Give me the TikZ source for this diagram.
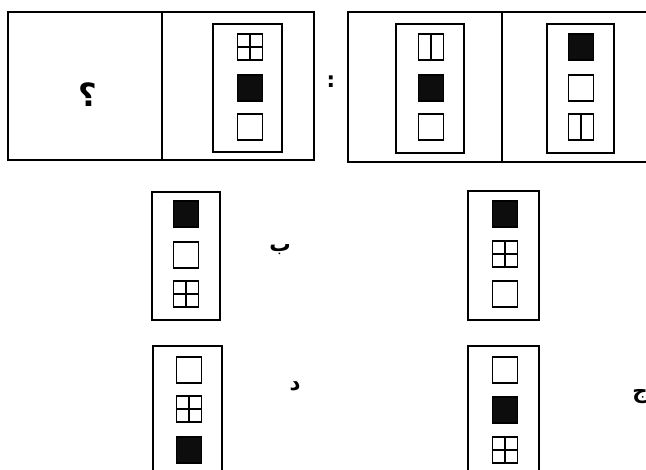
\documentclass[tikz,border=0pt]{standalone}
\usepackage{fontspec}
\newfontfamily\arabicfont[Script=Arabic]{DejaVu Sans}
\TeXXeTstate=1
\tikzset{
  frame/.style={draw=black, line width=1.3pt},
  card/.style={draw=black, line width=1.3pt},
  tile/.style={draw=black, line width=1.3pt, fill=white},
  letter/.style={font=\arabicfont\bfseries\fontsize{16}{18}\selectfont, inner sep=0pt},
  pics/blank/.style={code={\draw[tile] (-12.5,-13) rectangle (12.5,13);}},
  pics/solid/.style={code={\draw[tile, fill=black!95] (-12.5,-13) rectangle (12.5,13);}},
  pics/cross/.style={code={\draw[tile] (-12.5,-13) rectangle (12.5,13) (0,-13) -- (0,13) (-12.5,0) -- (12.5,0);}},
  pics/halves/.style={code={\draw[tile] (-12.5,-13) rectangle (12.5,13) (0,-13) -- (0,13);}},
}
\begin{document}
\begin{tikzpicture}[x=0.75pt, y=-0.75pt]
  \path[use as bounding box, clip] (0,0) rectangle (646,470);

  % question row
  \draw[frame] (8,12) rectangle (314,160) (162,12) -- (162,160);
  \draw[frame] (348,12) rectangle (670,162) (502,12) -- (502,162);
  \node[letter, font=\arabicfont\bfseries\fontsize{24}{28}\selectfont] (q) at (88,95) {\beginR ؟\endR};
  \node[letter, font=\arabicfont\bfseries\fontsize{16}{18}\selectfont] (colon) at (331,82) {:};

  \draw[card] (213,24) rectangle (282,152);
  \pic at (250,47) {cross};
  \pic at (250,88) {solid};
  \pic at (250,127) {blank};

  \draw[card] (396,24) rectangle (464,153);
  \pic at (431,47) {halves};
  \pic at (431,88) {solid};
  \pic at (431,127) {blank};

  \draw[card] (547,24) rectangle (614,153);
  \pic at (581,47) {solid};
  \pic at (581,88) {blank};
  \pic at (581,127) {halves};

  % answer choices
  \draw[card] (468,191) rectangle (539,320);
  \pic at (505,214) {solid};
  \pic at (505,254) {cross};
  \pic at (505,294) {blank};

  \draw[card] (152,192) rectangle (220,320);
  \pic at (186,214) {solid};
  \pic at (186,255) {blank};
  \pic at (186,294) {cross};
  \node[letter] (optB) at (280,250) {\beginR ب\endR};

  \draw[card] (468,346) rectangle (539,480);
  \pic at (505,370) {blank};
  \pic at (505,410) {solid};
  \pic at (505,450) {cross};
  \node[letter] (optJ) at (640,397) {\beginR ج\endR};

  \draw[card] (153,346) rectangle (222,480);
  \pic at (189,370) {blank};
  \pic at (189,409) {cross};
  \pic at (189,450) {solid};
  \node[letter] (optD) at (295,386) {\beginR د\endR};
\end{tikzpicture}
\end{document}
